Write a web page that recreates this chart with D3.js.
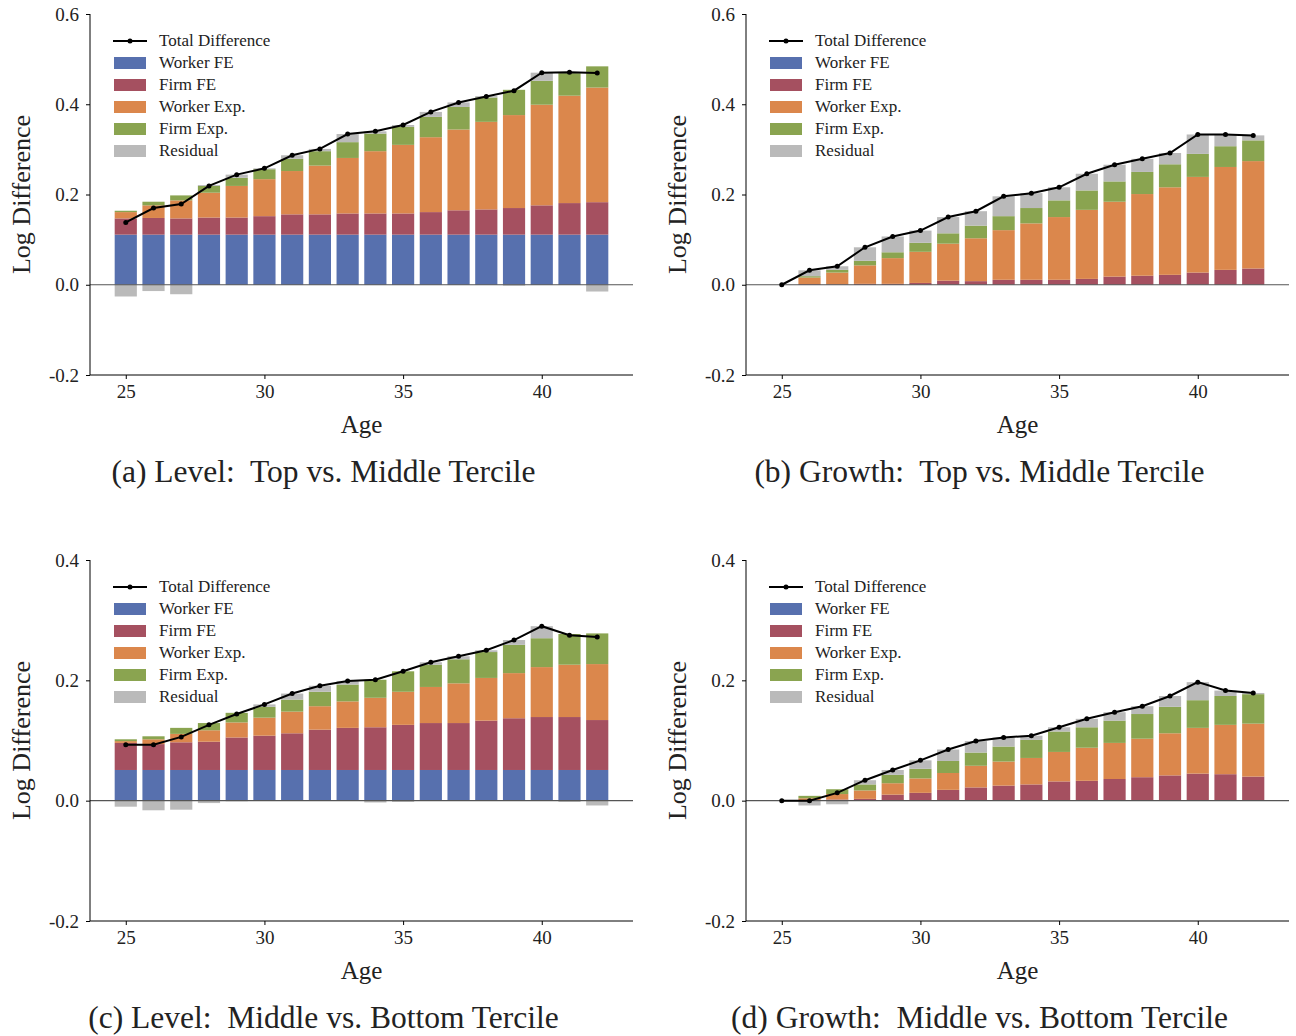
<!DOCTYPE html>
<html>
<head>
<meta charset="utf-8">
<script src="https://cdn.jsdelivr.net/npm/d3@7"></script>
<style>
  body { margin: 0; background: #fff; }
  text { font-family: "Liberation Serif", "DejaVu Serif", serif; fill: #222; }
</style>
</head>
<body>
<svg id="chart" width="1296" height="1036"></svg>
<script>
const ages = d3.range(25, 43);
const seriesNames = ['Worker FE', 'Firm FE', 'Worker Exp.', 'Firm Exp.', 'Residual'];
const colors = ['#5770ae', '#a55060', '#db874c', '#8aa450', '#bababa'];

// (a) Level: Top vs. Middle
const workerFE_a = [0.111,0.111,0.111,0.111,0.111,0.111,0.111,0.111,0.111,0.111,0.111,0.111,0.111,0.111,0.111,0.111,0.111,0.111];
const firmFE_a = [0.036,0.037,0.036,0.038,0.038,0.041,0.045,0.045,0.047,0.047,0.047,0.050,0.054,0.056,0.059,0.065,0.070,0.072];
const workerExp_a = [0.014,0.028,0.040,0.055,0.070,0.082,0.096,0.108,0.123,0.138,0.152,0.166,0.179,0.194,0.206,0.223,0.238,0.254];
const firmExp_a = [0.003,0.008,0.011,0.015,0.018,0.022,0.027,0.032,0.035,0.039,0.040,0.045,0.050,0.054,0.056,0.053,0.050,0.047];
const resid_a = [-0.026,-0.014,-0.021,0.002,0.007,0.002,0.008,0.005,0.018,0.005,0.004,0.011,0.010,0.003,-0.002,0.018,0.002,-0.015];
const total_a = [0.138,0.170,0.179,0.219,0.244,0.258,0.287,0.301,0.334,0.340,0.354,0.383,0.404,0.417,0.430,0.470,0.471,0.469];

// (b) Growth: Top vs. Middle
const workerFE_b = [0,0,0,0,0,0,0,0,0,0,0,0,0,0,0,0,0,0];
const firmFE_b = [0,0.0015,0.001,0.002,0.002,0.004,0.009,0.008,0.011,0.011,0.011,0.013,0.018,0.020,0.022,0.027,0.033,0.036];
const workerExp_b = [0,0.0145,0.026,0.041,0.057,0.069,0.082,0.095,0.110,0.125,0.139,0.153,0.166,0.181,0.194,0.212,0.228,0.238];
const firmExp_b = [0,0.003,0.006,0.010,0.013,0.020,0.023,0.028,0.031,0.034,0.037,0.043,0.045,0.049,0.051,0.051,0.046,0.046];
const resid_b = [0,0.013,0.008,0.030,0.035,0.027,0.036,0.032,0.044,0.033,0.029,0.037,0.037,0.029,0.025,0.043,0.026,0.011];
const total_b = [0,0.032,0.041,0.083,0.107,0.120,0.150,0.163,0.196,0.203,0.216,0.246,0.266,0.279,0.292,0.333,0.333,0.331];

// (c) Level: Middle vs. Bottom
const workerFE_c = [0.051,0.051,0.051,0.051,0.051,0.051,0.051,0.051,0.051,0.051,0.051,0.051,0.051,0.051,0.051,0.051,0.051,0.051];
const firmFE_c = [0.045,0.043,0.046,0.047,0.054,0.057,0.061,0.067,0.070,0.071,0.075,0.078,0.078,0.082,0.086,0.088,0.088,0.083];
const workerExp_c = [0.003,0.008,0.014,0.019,0.025,0.030,0.036,0.039,0.044,0.049,0.055,0.060,0.066,0.071,0.075,0.083,0.087,0.093];
const firmExp_c = [0.003,0.005,0.010,0.012,0.016,0.018,0.020,0.024,0.028,0.030,0.034,0.037,0.040,0.043,0.047,0.048,0.051,0.051];
const resid_c = [-0.010,-0.016,-0.015,-0.004,-0.001,0.004,0.010,0.010,0.006,-0.003,-0.002,0.004,0.005,0.003,0.008,0.020,-0.002,-0.008];
const total_c = [0.093,0.093,0.106,0.126,0.144,0.160,0.178,0.191,0.199,0.201,0.215,0.230,0.240,0.250,0.267,0.290,0.275,0.272];

// (d) Growth: Middle vs. Bottom
const workerFE_d = [0,0,0,0,0,0,0,0,0,0,0,0,0,0,0,0,0,0];
const firmFE_d = [0,0.001,0.002,0.003,0.010,0.013,0.018,0.022,0.025,0.027,0.032,0.033,0.036,0.039,0.042,0.045,0.044,0.040];
const workerExp_d = [0,0.003,0.009,0.014,0.019,0.024,0.028,0.036,0.040,0.044,0.049,0.055,0.060,0.064,0.070,0.076,0.082,0.088];
const firmExp_d = [0,0.004,0.008,0.010,0.014,0.016,0.020,0.022,0.025,0.030,0.034,0.034,0.037,0.041,0.044,0.046,0.048,0.049];
const resid_d = [0,-0.008,-0.006,0.007,0.008,0.014,0.019,0.019,0.015,0.007,0.007,0.014,0.014,0.013,0.018,0.030,0.009,0.002];
const total_d = [0,0,0.013,0.034,0.051,0.067,0.085,0.099,0.105,0.108,0.122,0.136,0.147,0.157,0.174,0.197,0.183,0.179];

const svg = d3.select('#chart');

function panel(opts) {
	const {left, right, top, bottom, yDomain, yTicks, series, total, caption} = opts;
	const g = svg.append('g');
	const x = d3.scaleLinear().domain([23.71, 43.29]).range([left, right]);
	const y = d3.scaleLinear().domain(yDomain).range([bottom, top]);

	const rows = ages.map((a, i) => {
		const r = {age: a};
		seriesNames.forEach((n, k) => r[n] = series[k][i]);
		return r;
	});
	const stacked = d3.stack().keys(seriesNames).offset(d3.stackOffsetDiverging)(rows);
	const bw = x(0.8) - x(0);

	stacked.forEach((layer, k) => {
		g.selectAll(null)
			.data(layer)
			.enter()
			.append('rect')
			.attr('x', d => x(d.data.age) - bw / 2)
			.attr('width', bw)
			.attr('y', d => y(Math.max(d[0], d[1])))
			.attr('height', d => Math.abs(y(d[0]) - y(d[1])))
			.style('fill', colors[k]);
	});

	// zero line
	g.append('line')
		.attr('x1', left).attr('x2', right)
		.attr('y1', y(0)).attr('y2', y(0))
		.style('stroke', '#555').style('stroke-width', 1.2);

	const line = d3.line().x((d, i) => x(ages[i])).y(d => y(d));
	g.append('path')
		.datum(total)
		.attr('d', line)
		.style('fill', 'none').style('stroke', '#000').style('stroke-width', 2);
	g.selectAll(null)
		.data(total)
		.enter()
		.append('circle')
		.attr('cx', (d, i) => x(ages[i]))
		.attr('cy', d => y(d))
		.attr('r', 2.5)
		.style('fill', '#000');

	// axes
	const yAxis = d3.axisLeft(y).tickValues(yTicks).tickSize(4).tickPadding(7).tickFormat(d3.format('.1f'));
	const ya = g.append('g').attr('transform', `translate(${left},0)`).call(yAxis);
	const xAxis = d3.axisBottom(x).tickValues([25, 30, 35, 40]).tickSize(4).tickPadding(6);
	const xa = g.append('g').attr('transform', `translate(0,${bottom})`).call(xAxis);
	[ya, xa].forEach(a => {
		a.select('.domain').style('stroke', '#000').style('stroke-width', 1);
		a.selectAll('.tick line').style('stroke', '#000');
		a.selectAll('.tick text').style('font-size', '19px').style('fill', '#222')
			.style('font-family', '"Liberation Serif", serif');
	});
	ya.select('.domain').attr('d', `M0,${top}V${bottom}`);
	xa.select('.domain').attr('d', `M${left},0H${right}`);
	ya.selectAll('.tick text').text(d => d3.format('.1f')(d).replace('−', '-'));

	g.append('text')
		.attr('x', (left + right) / 2).attr('y', bottom + 58)
		.attr('text-anchor', 'middle').style('font-size', '25px')
		.text('Age');
	g.append('text')
		.attr('transform', `translate(${left - 60},${(top + bottom) / 2}) rotate(-90)`)
		.attr('text-anchor', 'middle').style('font-size', '26px')
		.text('Log Difference');
	g.append('text')
		.attr('x', (left + right) / 2 - 38).attr('y', bottom + 107)
		.attr('text-anchor', 'middle').style('font-size', '31.5px')
		.text(caption);

	// legend
	const lx = left + 23, ly = top + 27;
	const lg = g.append('g');
	lg.append('line').attr('x1', lx).attr('x2', lx + 34).attr('y1', ly).attr('y2', ly)
		.style('stroke', '#000').style('stroke-width', 2);
	lg.append('circle').attr('cx', lx + 17).attr('cy', ly).attr('r', 2.5).style('fill', '#000');
	lg.append('text').attr('x', lx + 46).attr('y', ly + 5).style('font-size', '17px').text('Total Difference');
	seriesNames.forEach((n, k) => {
		const yy = ly + 22 * (k + 1);
		lg.append('rect').attr('x', lx + 1).attr('y', yy - 6).attr('width', 32).attr('height', 12).style('fill', colors[k]);
		lg.append('text').attr('x', lx + 46).attr('y', yy + 5).style('font-size', '17px').text(n);
	});
}

panel({left: 90, right: 633, top: 14, bottom: 375, yDomain: [-0.2, 0.6], yTicks: [-0.2, 0, 0.2, 0.4, 0.6],
	series: [workerFE_a, firmFE_a, workerExp_a, firmExp_a, resid_a], total: total_a,
	caption: '(a) Level:\u00a0 Top vs. Middle Tercile'});
panel({left: 746, right: 1289, top: 14, bottom: 375, yDomain: [-0.2, 0.6], yTicks: [-0.2, 0, 0.2, 0.4, 0.6],
	series: [workerFE_b, firmFE_b, workerExp_b, firmExp_b, resid_b], total: total_b,
	caption: '(b) Growth:\u00a0 Top vs. Middle Tercile'});
panel({left: 90, right: 633, top: 560, bottom: 921, yDomain: [-0.2, 0.4], yTicks: [-0.2, 0, 0.2, 0.4],
	series: [workerFE_c, firmFE_c, workerExp_c, firmExp_c, resid_c], total: total_c,
	caption: '(c) Level:\u00a0 Middle vs. Bottom Tercile'});
panel({left: 746, right: 1289, top: 560, bottom: 921, yDomain: [-0.2, 0.4], yTicks: [-0.2, 0, 0.2, 0.4],
	series: [workerFE_d, firmFE_d, workerExp_d, firmExp_d, resid_d], total: total_d,
	caption: '(d) Growth:\u00a0 Middle vs. Bottom Tercile'});
</script>
</body>
</html>
